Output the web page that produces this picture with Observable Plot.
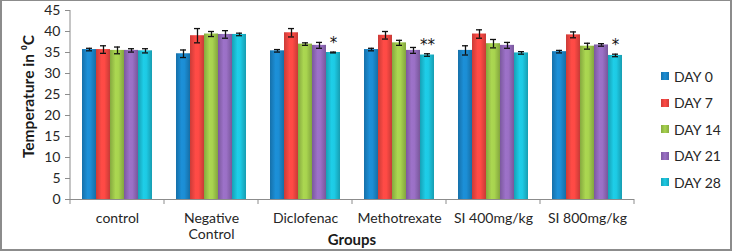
<!DOCTYPE html>
<html><head><meta charset="utf-8">
<script src="https://cdn.jsdelivr.net/npm/d3@7"></script>
<script src="https://cdn.jsdelivr.net/npm/@observablehq/plot@0.6"></script>
<style>
body{margin:0;background:#fff;}
#wrap{position:relative;width:732px;height:251px;overflow:hidden;font-family:Lato,"Open Sans",sans-serif;}
#border{position:absolute;left:0;top:0;width:732px;height:251px;box-sizing:border-box;border:2px solid #8c8c8c;border-top-width:1px;pointer-events:none;}
#chart{position:absolute;left:0;top:0;}
#legend{position:absolute;left:661px;top:63px;}
.item{display:flex;align-items:center;height:26.5px;font-size:14px;color:#262626;}
.sw{width:8px;height:8px;margin-right:5px;}
</style></head>
<body><div id="wrap"><div id="chart"></div><div id="legend"></div><div id="border"></div></div>
<script>
const groups = ["control","Negative Control","Diclofenac","Methotrexate","SI 400mg/kg","SI 800mg/kg"];
const days = ["DAY 0","DAY 7","DAY 14","DAY 21","DAY 28"];
const colors = ["#1a84c6","#ee4540","#9cc54a","#9068b8","#1bbcd4"];
const yTicks = [0,5,10,15,20,25,30,35,40,45];
const day0 = [35.7, 34.7, 35.4, 35.7, 35.5, 35.2];
const day0Err = [0.3, 0.9, 0.3, 0.3, 1.1, 0.3];
const day7 = [35.7, 39.0, 39.7, 39.1, 39.4, 39.2];
const day7Err = [0.9, 1.7, 1.0, 0.9, 1.0, 0.7];
const day14 = [35.5, 39.4, 37.0, 37.3, 37.1, 36.5];
const day14Err = [0.8, 0.6, 0.3, 0.6, 1.0, 0.7];
const day21 = [35.5, 39.3, 36.7, 35.5, 36.7, 36.8];
const day21Err = [0.4, 0.9, 0.7, 0.7, 0.7, 0.3];
const day28 = [35.4, 39.3, 35.0, 34.4, 34.9, 34.3];
const day28Err = [0.5, 0.3, 0.1, 0.3, 0.3, 0.3];
const day28Sig = ["", "", "*", "**", "", "*"];

const series = [[day0, day0Err], [day7, day7Err], [day14, day14Err], [day21, day21Err], [day28, day28Err]];
const rows = [];
groups.forEach((g, i) => {
  series.forEach(([v, e], j) => {
    rows.push({group: g, day: days[j], value: v[i], lo: v[i] - e[i], hi: v[i] + e[i], sig: j === 4 ? day28Sig[i] : ""});
  });
});

const plot = Plot.plot({
  width: 650, height: 251,
  marginLeft: 69, marginRight: 16, marginTop: 10, marginBottom: 52,
  style: {fontFamily: "Lato, 'Open Sans', sans-serif", fontSize: "14px", color: "#262626", background: "transparent", overflow: "visible"},
  fx: {domain: groups, padding: 0, label: null},
  x: {domain: days, paddingInner: 0, paddingOuter: 0.7, axis: null},
  y: {domain: [0, 45], label: null},
  color: {domain: days, range: colors},
  marks: [
    Plot.axisY({ticks: yTicks, tickSize: 5, tickPadding: 5, stroke: "#8c8c8c", label: null, fontSize: 14}),
    Plot.axisFx({anchor: "bottom", tickSize: 0, tickPadding: 12, label: null, lineHeight: 1.15, fontSize: 14,
      tickFormat: d => d === "Negative Control" ? "Negative\nControl" : d}),
    Plot.barY(rows, {fx: "group", x: "day", y: "value", fill: "day"}),
    Plot.ruleY([0], {stroke: "#8c8c8c"}),
    Plot.ruleX(rows, {fx: "group", x: "day", y1: "lo", y2: "hi", stroke: "#111", strokeWidth: 1.3}),
    Plot.tickY(rows, {fx: "group", x: "day", y: "lo", stroke: "#111", strokeWidth: 1.3, insetLeft: 4, insetRight: 4}),
    Plot.tickY(rows, {fx: "group", x: "day", y: "hi", stroke: "#111", strokeWidth: 1.3, insetLeft: 4, insetRight: 4}),
    Plot.text(rows.filter(r => r.sig), {fx: "group", x: "day", y: "hi", text: "sig", dy: -9, fontSize: 15, fill: "#111", fontFamily: "DejaVu Sans", letterSpacing: 1})
  ]
});
document.getElementById("chart").appendChild(plot);

const svg = d3.select(plot);
const defs = svg.insert("defs", ":first-child");
const gradId = new Map();
colors.forEach((c, i) => {
  const base = d3.color(c);
  const g = defs.append("linearGradient").attr("id", "g" + i).attr("x1", 0).attr("x2", 1).attr("y1", 0).attr("y2", 0);
  g.append("stop").attr("offset", "0%").attr("stop-color", base.darker(0.45).formatHex());
  g.append("stop").attr("offset", "40%").attr("stop-color", base.brighter(0.25).formatHex());
  g.append("stop").attr("offset", "60%").attr("stop-color", base.brighter(0.2).formatHex());
  g.append("stop").attr("offset", "100%").attr("stop-color", base.darker(0.5).formatHex());
  gradId.set(base.formatHex(), "url(#g" + i + ")");
});
svg.selectAll("rect").each(function() {
  const f = this.getAttribute("fill");
  if (f && gradId.has(d3.color(f).formatHex())) this.setAttribute("fill", gradId.get(d3.color(f).formatHex()));
});

const fx = plot.scale("fx"), y = plot.scale("y");
const y0 = y.apply(0), yTop = y.apply(45);
const left = fx.apply(groups[0]);
svg.append("line").attr("x1", left).attr("x2", left).attr("y1", yTop).attr("y2", y0).attr("stroke", "#8c8c8c");
groups.concat([null]).forEach((g, i) => {
  const xx = g ? fx.apply(g) : fx.apply(groups[groups.length - 1]) + fx.step;
  svg.append("line").attr("x1", xx).attr("x2", xx).attr("y1", y0).attr("y2", y0 + 5).attr("stroke", "#8c8c8c");
});
const right = fx.apply(groups[groups.length - 1]) + fx.step;
svg.append("text").attr("transform", `translate(30,${(y0 + yTop) / 2 - 8}) rotate(-90)`)
  .attr("text-anchor", "middle").attr("dominant-baseline", "middle")
  .attr("font-weight", "bold").attr("font-size", 15.5).attr("fill", "#1a1a1a")
  .text("Temperature in ⁰C");
svg.append("text").attr("x", (left + right) / 2).attr("y", 241)
  .attr("text-anchor", "middle").attr("dominant-baseline", "middle")
  .attr("font-weight", "bold").attr("font-size", 15).attr("fill", "#1a1a1a")
  .text("Groups");

const legend = d3.select("#legend");
days.forEach((d, i) => {
  const it = legend.append("div").attr("class", "item");
  it.append("div").attr("class", "sw").style("background", `linear-gradient(to right, ${d3.color(colors[i]).darker(0.4)}, ${d3.color(colors[i]).brighter(0.2)}, ${d3.color(colors[i]).darker(0.4)})`);
  it.append("span").text(d);
});
</script></body></html>
